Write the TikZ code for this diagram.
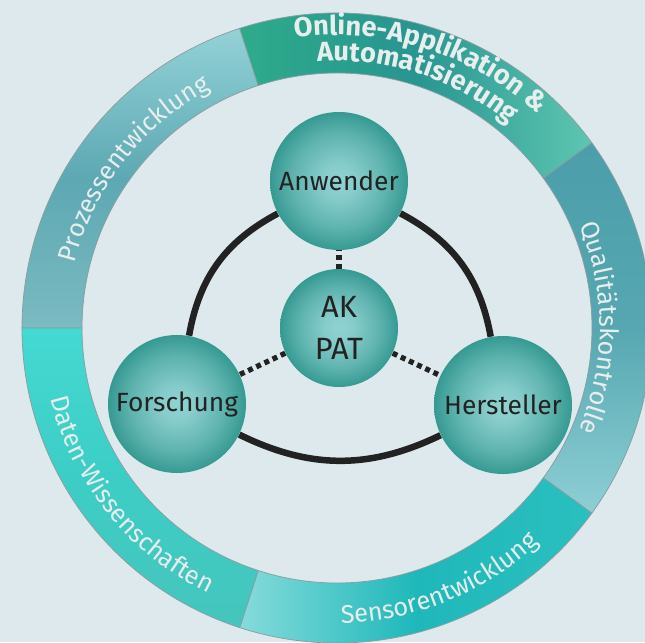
\documentclass[tikz,border=0pt]{standalone}
\usepackage{fontspec}
\setmainfont{Fira Sans}
\usetikzlibrary{decorations.text,backgrounds}

\definecolor{paper}{HTML}{DDE9EC}
\definecolor{ringline}{HTML}{8A9EA1}
\definecolor{ringtext}{HTML}{E8EEEE}
\definecolor{ink}{HTML}{222222}
\definecolor{sphlight}{HTML}{90D2D2}
\definecolor{sphdark}{HTML}{369A92}

% sphere look of the partner circles
\pgfdeclareradialshading{sphere}{\pgfpoint{0bp}{0bp}}{%
  color(0bp)=(sphlight); color(6bp)=(sphlight!90!sphdark);
  color(17bp)=(sphlight!45!sphdark); color(25bp)=(sphdark); color(50bp)=(sphdark)}

\tikzset{
  segment/.style={draw=ringline, line width=0.15mm},
  prozess/.style={top color=prozA, bottom color=prozC, middle color=prozB},
  online/.style={left color=onlA, right color=onlC, middle color=onlB},
  quali/.style={top color=qualA, bottom color=qualC, middle color=qualB},
  sensor/.style={left color=sensA, right color=sensC, middle color=sensB},
  daten/.style={top color=datA, bottom color=datC, middle color=datB},
  party/.style={circle, shade, shading=sphere, minimum size=27.6mm, inner sep=0pt,
    text=ink, font=\fontsize{15}{18}\selectfont},
  tie/.style={draw=ink, line width=1.3mm},
  dotlink/.style={draw=ink, line width=1.05mm, dash pattern=on 1mm off 0.8mm},
  ringlabel/.style={decorate, decoration={text along path, text align=center,
    text color=ringtext, text={#1}}}
}
\definecolor{prozA}{HTML}{93D2D7}
\definecolor{prozB}{HTML}{5DA8B3}
\definecolor{prozC}{HTML}{7BBAC1}
\definecolor{onlA}{HTML}{2EAB8B}
\definecolor{onlB}{HTML}{289591}
\definecolor{onlC}{HTML}{5EC6B1}
\definecolor{qualA}{HTML}{4B9EAA}
\definecolor{qualB}{HTML}{56A7B1}
\definecolor{qualC}{HTML}{8ECFD5}
\definecolor{sensA}{HTML}{86DBDB}
\definecolor{sensB}{HTML}{1FB8BA}
\definecolor{sensC}{HTML}{2BBFBF}
\definecolor{datA}{HTML}{44D9D2}
\definecolor{datB}{HTML}{3CCEC6}
\definecolor{datC}{HTML}{45C5BC}

\def\Rin{255}
\def\Rout{315}
\def\ringfont{\fontsize{14.5}{16}\selectfont}

\begin{document}
\begin{tikzpicture}[x=0.2mm, y=0.2mm]
  \useasboundingbox (-337,-314) rectangle (308,328);
  \clip (-337,-314) rectangle (308,328);

  % outer ring
  \foreach \a/\b/\look in {108/180/prozess, 36/108/online, -36/36/quali, -108/-36/sensor, 180/252/daten}
    \shadedraw[segment, \look] (\a:\Rout) arc[start angle=\a, end angle=\b, radius=\Rout]
      -- (\b:\Rin) arc[start angle=\b, end angle=\a, radius=\Rin] -- cycle;

  \path[ringlabel={|\ringfont|Prozessentwicklung}] (192:270) arc[start angle=192, end angle=92, radius=270];
  \path[ringlabel={|\fontsize{15.5}{17}\selectfont\bfseries|Online-Applikation {\&}}] (122:293) arc[start angle=122, end angle=23, radius=293];
  \path[ringlabel={|\fontsize{15.5}{17}\selectfont\bfseries|Automatisierung}] (117:267) arc[start angle=117, end angle=27, radius=267];
  \path[ringlabel={|\ringfont|Qualitätskontrolle}] (50:263) arc[start angle=50, end angle=-50, radius=263];
  \path[ringlabel={|\ringfont|Sensorentwicklung}] (-118:295) arc[start angle=-118, end angle=-18, radius=295];
  \path[ringlabel={|\ringfont|Daten-Wissenschaften}] (169:295) arc[start angle=169, end angle=269, radius=295];

  % partners
  \node[party] (anw) at (2,147) {Anwender};
  \node[party, minimum size=23.6mm, align=center, font=\fontsize{17.5}{24}\selectfont] (core) at (2,0) {AK\\PAT};
  \node[party] (fors) at (-160,-76) {Forschung};
  \node[party] (hers) at (166,-77) {Hersteller};

  \begin{scope}[on background layer]
    \fill[paper] (-337,-314) rectangle (308,328);
    \draw[tie] (anw) to[bend right=26] (fors);
    \draw[tie] (fors) to[bend right=26] (hers);
    \draw[tie] (hers) to[bend right=26] (anw);
    \draw[dotlink] (core) -- (anw);
    \draw[dotlink] (core) -- (fors);
    \draw[dotlink] (core) -- (hers);
  \end{scope}
\end{tikzpicture}
\end{document}
